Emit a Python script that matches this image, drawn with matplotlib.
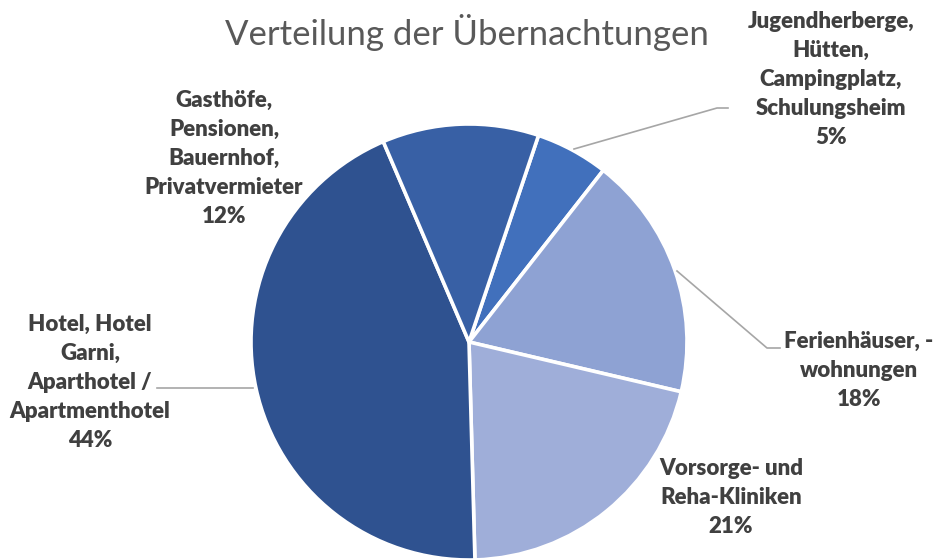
import matplotlib.pyplot as plt

# Daten (Anteile in %), im Uhrzeigersinn ab Jugendherberge
kategorien = [
    "Jugendherberge,\nHütten,\nCampingplatz,\nSchulungsheim",
    "Ferienhäuser, -\nwohnungen",
    "Vorsorge- und\nReha-Kliniken",
    "Hotel, Hotel\nGarni,\nAparthotel /\nApartmenthotel",
    "Gasthöfe,\nPensionen,\nBauernhof,\nPrivatvermieter",
]
anteile = [5.4, 18.1, 20.9, 44.0, 11.6]
farben = ["#4170BC", "#8EA2D3", "#9FAED9", "#2F5290", "#3860A5"]

W, H = 936, 560
fig = plt.figure(figsize=(W / 100, H / 100), dpi=100)
ax = fig.add_axes([0, 0, 1, 1])

# Kreis in Pixelkoordinaten (y nach oben)
cx, cy, r = 469, H - 342, 218
ax.pie(anteile, colors=farben, startangle=90 - 18.6, counterclock=False,
       center=(cx, cy), radius=r,
       wedgeprops=dict(edgecolor="white", linewidth=2.6))
ax.set_xlim(0, W)
ax.set_ylim(0, H)
ax.set_aspect("equal")
ax.axis("off")

# Titel
ax.text(467, H - 45, "Verteilung der Übernachtungen", ha="center", va="baseline",
        fontsize=25, family="Lato", color="#595959")

# Beschriftungen: (Mitte x, erste Grundlinie y)
pos = [(831, 28), (859, 348), (731, 475), (90, 331), (224, 107)]
zeile = 29
for name, wert, (lx, ly) in zip(kategorien, anteile, pos):
    zeilen = name.split("\n") + [f"{round(wert)}%"]
    for i, t in enumerate(zeilen):
        ax.text(lx, H - (ly + i * zeile), t, ha="center", va="baseline",
                fontsize=16, fontweight="heavy", family="Lato", color="#404040")

# Führungslinien
linien = [
    [(574, 149), (717, 108), (728, 108)],
    [(677, 271), (767, 348), (780, 348)],
    [(253, 388), (157, 388)],
]
for l in linien:
    xs = [p[0] for p in l]
    ys = [H - p[1] for p in l]
    ax.plot(xs, ys, color="#A6A6A6", linewidth=1.2)

fig.savefig("out.png", dpi=100)
